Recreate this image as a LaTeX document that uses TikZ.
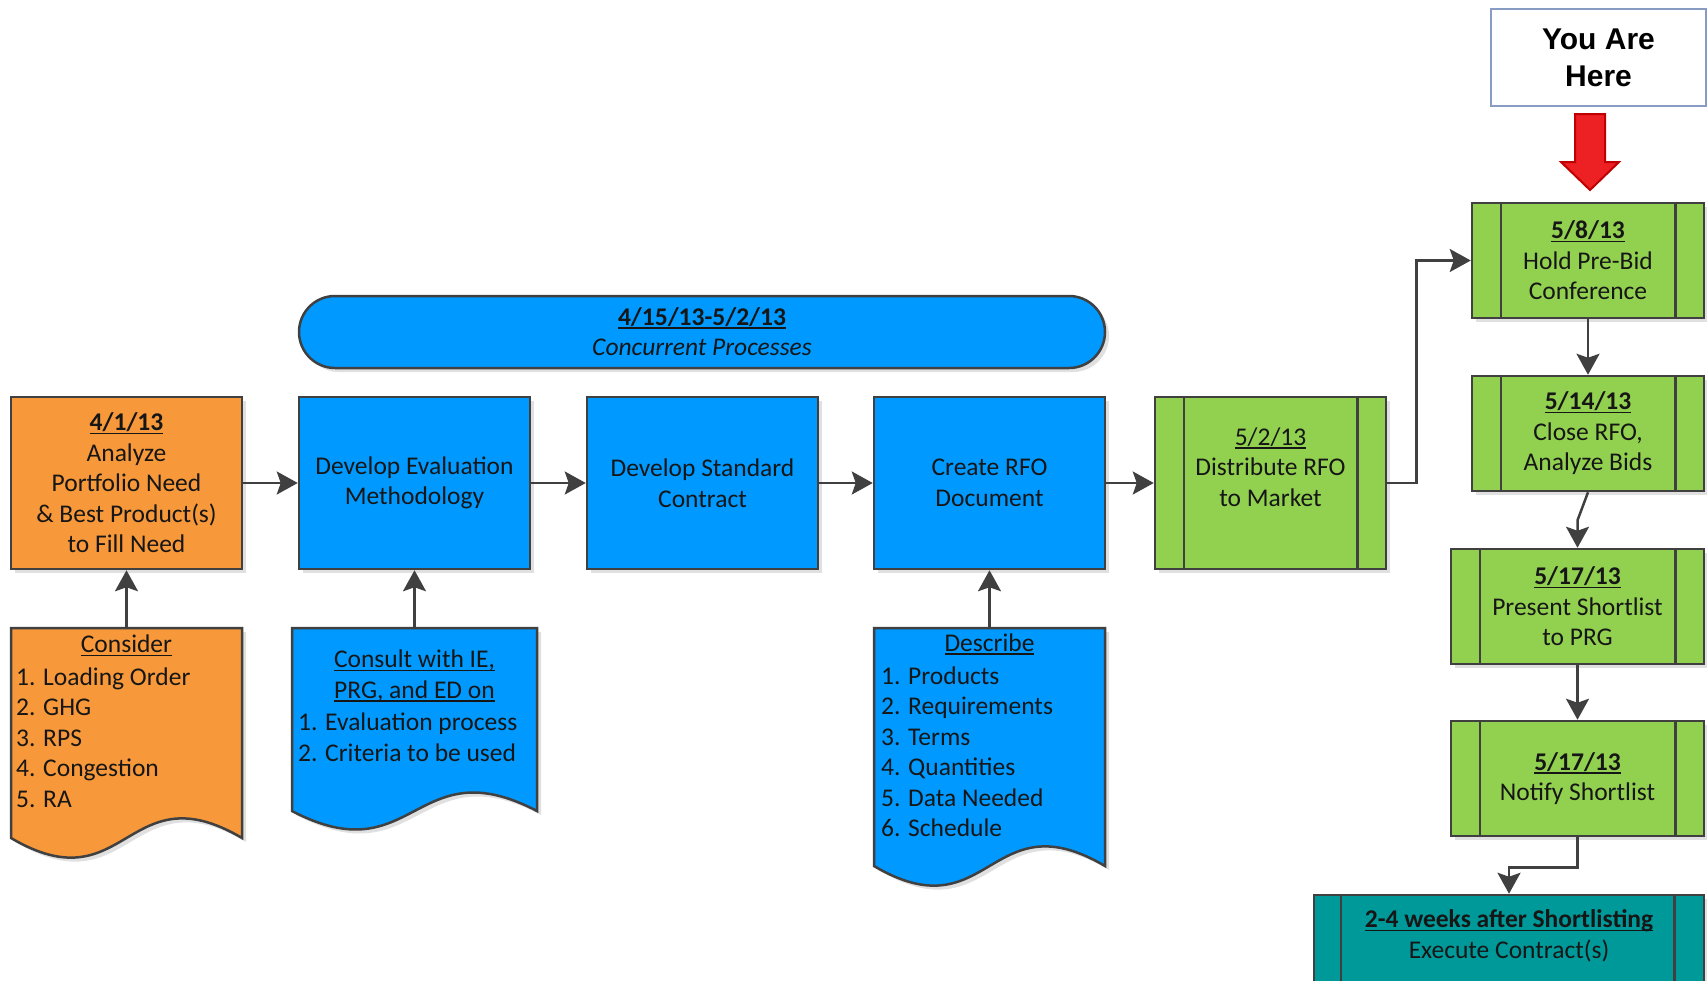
\documentclass[tikz,border=0pt]{standalone}
\usepackage{fontspec}
\setmainfont{Carlito}
\newfontfamily\arialf{Liberation Sans}
\usetikzlibrary{arrows.meta,shadows,calc}
\newcommand\myul[1]{\leavevmode\setbox0\hbox{#1}\rlap{\rule[-3.5pt]{\wd0}{1.7pt}}\box0}
\definecolor{cOrange}{RGB}{247,152,58}
\definecolor{cBlue}{RGB}{0,153,255}
\definecolor{cGreen}{RGB}{146,208,80}
\definecolor{cTeal}{RGB}{0,153,153}
\definecolor{cLine}{RGB}{64,64,64}
\definecolor{cText}{RGB}{22,22,22}
\definecolor{cRed}{RGB}{237,32,36}
\definecolor{cRedD}{RGB}{192,0,0}
\definecolor{cYah}{RGB}{135,155,195}
\begin{document}
\begin{tikzpicture}[x=1pt,y=-1pt,
  shad/.style={drop shadow={shadow xshift=4pt,shadow yshift=-4pt,fill=black,opacity=0.12}},
  box/.style={shad, draw=cLine, line width=2.5pt, inner sep=0pt, minimum width=231pt, minimum height=172pt, align=center, text=cText, font=\fontsize{25.5}{30.5}\selectfont},
  obox/.style={box, fill=cOrange},
  bbox/.style={box, fill=cBlue},
  gbox/.style={box, fill=cGreen},
  sbox/.style={gbox, minimum height=115pt, minimum width=232pt},
  divider/.style={draw=cLine, line width=2.5pt},
  docnode/.style={inner sep=0pt, outer sep=0pt, draw=none},
  docshape/.style={shad, draw=cLine, line width=2.5pt, line join=miter},
  txt/.style={inner sep=0pt, align=center, text=cText, font=\fontsize{25.5}{30.5}\selectfont},
  ltxt/.style={txt, align=left, anchor=west},
  conn/.style={draw=cLine, line width=2.5pt, -{Stealth[length=21pt,width=23pt,inset=4pt]}},
]
\useasboundingbox (0,0) rectangle (1707,980);
\clip (0,0) rectangle (1707,980);

% concurrent pill
\node[shad, draw=cLine, line width=2.5pt, fill=cBlue, rounded corners=36pt, minimum width=806pt, minimum height=72pt, inner sep=0pt] (pill) at (702,332) {};
\node[txt] (pillt) at (702,331.5) {\textbf{\myul{4/15/13-5/2/13}}\\\textit{Concurrent Processes}};

% main row
\node[obox] (analyze) at (126.5,483) {\textbf{\myul{4/1/13}}\\Analyze\\Portfolio Need\\\& Best Product(s)\\to Fill Need};
\node[bbox] (evalm) at (414.5,483) {Develop Evaluation\\Methodology};
\node[bbox] (stdc) at (702.5,483) {Develop Standard\\Contract};
\node[bbox] (rfodoc) at (989.5,483) {Create RFO\\Document};
\node[gbox] (dist) at (1270.5,483) {};
\node[txt] (distt) at (1270.5,467) {\myul{5/2/13}\\Distribute RFO\\to Market};

% right column
\node[sbox] (hold) at (1588,260.5) {\textbf{\myul{5/8/13}}\\Hold Pre-Bid\\Conference};
\node[sbox] (close) at (1588,433.5) {\textbf{\myul{5/14/13}}\\Close RFO,\\Analyze Bids};
\node[sbox, minimum width=253pt] (present) at (1577.5,606.5) {\textbf{\myul{5/17/13}}\\Present Shortlist\\to PRG};
\node[sbox, minimum width=253pt] (notify) at (1577.5,778.5) {\textbf{\myul{5/17/13}}\\Notify Shortlist};
\node[box, fill=cTeal, minimum width=390pt, minimum height=115pt] (exec) at (1509,952.5) {};
\node[txt] (exect) at (1509,936) {\textbf{\myul{2-4 weeks after Shortlisting}}\\Execute Contract(s)};

% dividers of the green / teal boxes
\foreach \n in {dist,hold,close,present,notify} {
  \draw[divider] ([xshift=30pt]\n.north west) -- ([xshift=30pt]\n.south west);
  \draw[divider] ([xshift=-30pt]\n.north east) -- ([xshift=-30pt]\n.south east);
}
\draw[divider] ([xshift=28pt]exec.north west) -- ([xshift=28pt]exec.south west);
\draw[divider] ([xshift=-31pt]exec.north east) -- ([xshift=-31pt]exec.south east);

% documents
\node[docnode, minimum width=231pt, minimum height=210pt] (consider) at (126.5,733) {};
\path[docshape, fill=cOrange] (consider.north west) -- (consider.north east) -- (consider.south east)
  .. controls ($(consider.south)+(0,-68)$) and ($(consider.south)+(0,68)$) .. (consider.south west) -- cycle;
\node[txt] (considerh) at (126.5,645.6) {\myul{Consider}};
\node[ltxt] (consideri) at (16,737.5) {1. Loading Order\\2. GHG\\3. RPS\\4. Congestion\\5. RA};

\node[docnode, minimum width=245pt, minimum height=183pt] (consult) at (414.5,719.5) {};
\path[docshape, fill=cBlue] (consult.north west) -- (consult.north east) -- (consult.south east)
  .. controls ($(consult.south)+(0,-64)$) and ($(consult.south)+(0,64)$) .. (consult.south west) -- cycle;
\node[txt] (consulth) at (414.5,676) {\myul{Consult with IE,}\\\myul{PRG, and ED on}};
\node[ltxt] (consulti) at (298,737) {1. Evaluation process\\2. Criteria to be used};

\node[docnode, minimum width=231pt, minimum height=238pt] (describe) at (989.5,747) {};
\path[docshape, fill=cBlue] (describe.north west) -- (describe.north east) -- (describe.south east)
  .. controls ($(describe.south)+(0,-68)$) and ($(describe.south)+(0,68)$) .. (describe.south west) -- cycle;
\node[txt] (describeh) at (989.5,644.5) {\myul{Describe}};
\node[ltxt] (describei) at (881,751.75) {1. Products\\2. Requirements\\3. Terms\\4. Quantities\\5. Data Needed\\6. Schedule};

% connectors
\draw[conn] (analyze) -- (evalm);
\draw[conn] (evalm) -- (stdc);
\draw[conn] (stdc) -- (rfodoc);
\draw[conn] (rfodoc) -- (dist);
\draw[conn] (dist.east) -- ++(29,0) |- (hold.west);
\draw[conn] (hold) -- (close);
\draw[conn] (close.south) -- ++(-10.5,28) -- (present.north);
\draw[conn] (present) -- (notify);
\draw[conn] (notify.south) -- ++(0,30) -| (exec.north);
\draw[conn] (consider) -- (analyze);
\draw[conn] (consult) -- (evalm);
\draw[conn] (describe) -- (rfodoc);

% you are here
\node[draw=cYah, line width=2pt, fill=white, minimum width=215pt, minimum height=97pt, inner sep=0pt, align=center, font=\arialf\bfseries\fontsize{30}{37}\selectfont] (yah) at (1598.5,57.5) {You Are\\Here};
\draw[draw=cRedD, fill=cRed, line width=2pt, line join=miter]
  (1575,114) -- (1605,114) -- (1605,162) -- (1619,162) -- (1590,190) -- (1561,162) -- (1575,162) -- cycle;
\end{tikzpicture}
\end{document}
